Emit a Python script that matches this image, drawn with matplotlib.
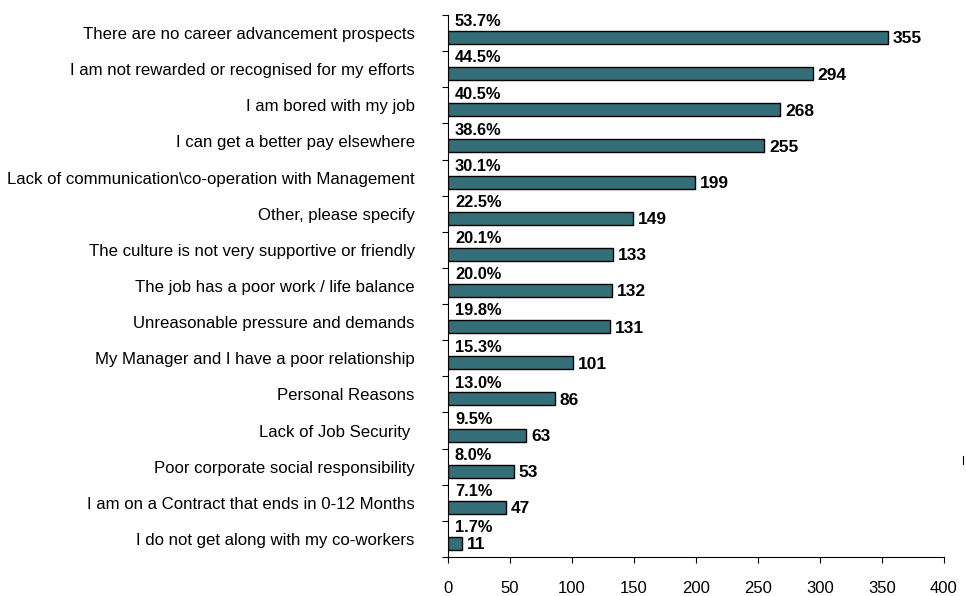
import matplotlib
matplotlib.use("Agg")
import matplotlib.pyplot as plt
from matplotlib.lines import Line2D

categories = [
    "There are no career advancement prospects",
    "I am not rewarded or recognised for my efforts",
    "I am bored with my job",
    "I can get a better pay elsewhere",
    "Lack of communication\\co-operation with Management",
    "Other, please specify",
    "The culture is not very supportive or friendly",
    "The job has a poor work / life balance",
    "Unreasonable pressure and demands",
    "My Manager and I have a poor relationship",
    "Personal Reasons",
    "Lack of Job Security ",
    "Poor corporate social responsibility",
    "I am on a Contract that ends in 0-12 Months",
    "I do not get along with my co-workers",
]
counts = [355, 294, 268, 255, 199, 149, 133, 132, 131, 101, 86, 63, 53, 47, 11]
percents = ["53.7%", "44.5%", "40.5%", "38.6%", "30.1%", "22.5%", "20.1%", "20.0%",
            "19.8%", "15.3%", "13.0%", "9.5%", "8.0%", "7.1%", "1.7%"]
xticks = [0, 50, 100, 150, 200, 250, 300, 350, 400]

plt.rcParams['font.family'] = ['Liberation Sans', 'DejaVu Sans']

fig = plt.figure(figsize=(9.66, 5.96), dpi=100)
ax = fig.add_axes([448/966, 1-557/596, (944-448)/966, (557-15)/596])

n = len(categories)
pos = list(range(n))
bar_pos = [p + 0.125 for p in pos]
ax.barh(bar_pos, counts, height=0.36, color="#346E78", edgecolor="black", linewidth=1.0, zorder=3)

for i, (c, pct) in enumerate(zip(counts, percents)):
    ax.annotate(pct, xy=(0, i - 0.31), xytext=(5, 0), textcoords="offset points",
                ha="left", va="center", fontsize=11.8, fontweight="bold", color="black")
    ax.annotate(str(c), xy=(c, i + 0.125), xytext=(3.5, -1), textcoords="offset points",
                ha="left", va="center", fontsize=12.5, fontweight="bold", color="black")

ax.set_ylim(n - 0.5, -0.5)
ax.set_xlim(0, 400)
ax.set_xticks(xticks)
ax.set_xticklabels([str(t) for t in xticks], fontsize=12)
ax.tick_params(axis="x", direction="out", length=4, width=0.8, pad=13.5, colors="black")

ax.set_yticks([p - 0.5 for p in range(n + 1)])
ax.set_yticklabels([])
ax.set_yticks(pos, minor=True)
ax.set_yticklabels(categories, minor=True, fontsize=12.1)
ax.tick_params(axis="y", which="major", direction="out", length=4, width=0.8)
ax.tick_params(axis="y", which="minor", length=0, pad=24)

for s in ["top", "right"]:
    ax.spines[s].set_visible(False)
ax.spines["left"].set_linewidth(0.8)
ax.spines["bottom"].set_linewidth(0.8)

fig.add_artist(Line2D([963/966, 963/966], [1-456/596, 1-464/596], color="black", linewidth=0.8))

fig.savefig("out.png", dpi=100)
